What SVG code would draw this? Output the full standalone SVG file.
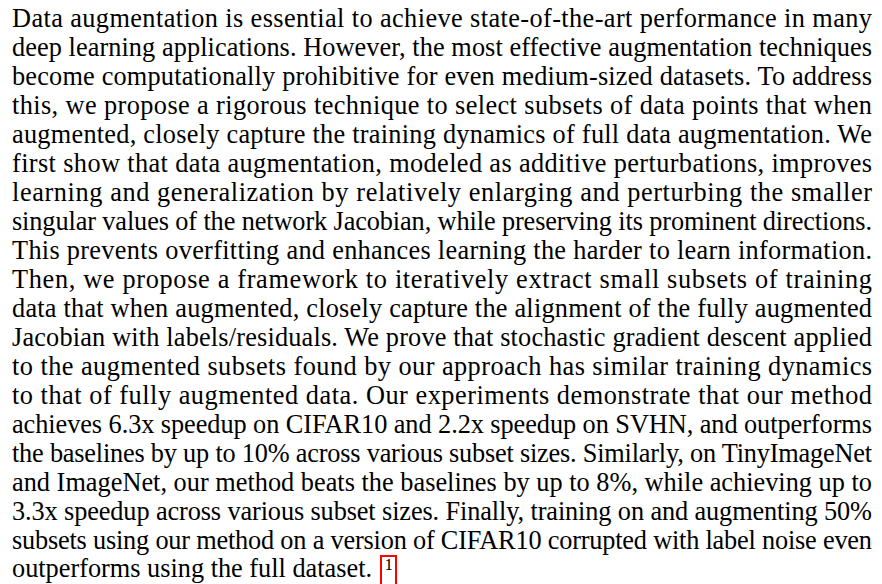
<svg xmlns="http://www.w3.org/2000/svg" width="882" height="584" viewBox="0 0 882 584">
<style>
.t{font-family:"Liberation Serif","Times New Roman",serif;font-size:26.3px;fill:#000}
.fn{font-family:"Liberation Serif","Times New Roman",serif;font-size:17px;fill:#000}
</style>
<rect width="882" height="584" fill="#fff"/>
<g id="abstract">
<text class="t" x="12" y="27" textLength="860" lengthAdjust="spacing">Data augmentation is essential to achieve state-of-the-art performance in many</text>
<text class="t" x="12" y="56" textLength="860" lengthAdjust="spacing">deep learning applications. However, the most effective augmentation techniques</text>
<text class="t" x="12" y="85" textLength="860" lengthAdjust="spacing">become computationally prohibitive for even medium-sized datasets. To address</text>
<text class="t" x="12" y="114" textLength="860" lengthAdjust="spacing">this, we propose a rigorous technique to select subsets of data points that when</text>
<text class="t" x="12" y="143" textLength="860" lengthAdjust="spacing">augmented, closely capture the training dynamics of full data augmentation. We</text>
<text class="t" x="12" y="172" textLength="860" lengthAdjust="spacing">first show that data augmentation, modeled as additive perturbations, improves</text>
<text class="t" x="12" y="201" textLength="860" lengthAdjust="spacing">learning and generalization by relatively enlarging and perturbing the smaller</text>
<text class="t" x="12" y="230" textLength="860" lengthAdjust="spacing">singular values of the network Jacobian, while preserving its prominent directions.</text>
<text class="t" x="12" y="259" textLength="860" lengthAdjust="spacing">This prevents overfitting and enhances learning the harder to learn information.</text>
<text class="t" x="12" y="288" textLength="860" lengthAdjust="spacing">Then, we propose a framework to iteratively extract small subsets of training</text>
<text class="t" x="12" y="317" textLength="860" lengthAdjust="spacing">data that when augmented, closely capture the alignment of the fully augmented</text>
<text class="t" x="12" y="346" textLength="860" lengthAdjust="spacing">Jacobian with labels/residuals. We prove that stochastic gradient descent applied</text>
<text class="t" x="12" y="375" textLength="860" lengthAdjust="spacing">to the augmented subsets found by our approach has similar training dynamics</text>
<text class="t" x="12" y="404" textLength="860" lengthAdjust="spacing">to that of fully augmented data. Our experiments demonstrate that our method</text>
<text class="t" x="12" y="433" textLength="860" lengthAdjust="spacing">achieves 6.3x speedup on CIFAR10 and 2.2x speedup on SVHN, and outperforms</text>
<text class="t" x="12" y="462" textLength="860" lengthAdjust="spacing">the baselines by up to 10% across various subset sizes. Similarly, on TinyImageNet</text>
<text class="t" x="12" y="491" textLength="860" lengthAdjust="spacing">and ImageNet, our method beats the baselines by up to 8%, while achieving up to</text>
<text class="t" x="12" y="520" textLength="860" lengthAdjust="spacing">3.3x speedup across various subset sizes. Finally, training on and augmenting 50%</text>
<text class="t" x="12" y="549" textLength="860" lengthAdjust="spacing">subsets using our method on a version of CIFAR10 corrupted with label noise even</text>
<text class="t" x="12" y="577">outperforms using the full dataset.</text>
</g>
<g id="footnote">
<rect x="381" y="556" width="15" height="30" fill="none" stroke="#ff0000" stroke-width="2"/>
<text class="fn" x="384.5" y="570">1</text>
</g>
</svg>
